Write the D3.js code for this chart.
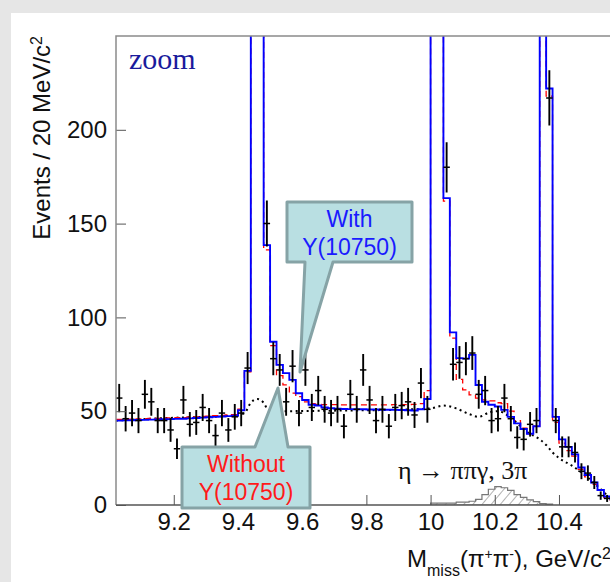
<!DOCTYPE html>
<html>
<head>
<meta charset="utf-8">
<script src="https://cdn.jsdelivr.net/npm/d3@7"></script>
<style>
  body { margin: 0; background: #fff; }
  svg { display: block; }
  text { font-family: "Liberation Sans", Arial, sans-serif; }
</style>
</head>
<body>
<div id="chart"></div>
<script>
// histogram binning: 20 MeV bins, first bin starts at 9.02 GeV
var binLow = 9.02,
	binW = 0.02;

// measured events per bin (points with errors)
var dataCounts = [57, 46, 49, 45, 59, 55, 45, 45, 40, 30,
	56, 43, 44, 52, 45, 37, 49, 40, 47, 49,
	73, 330, 310, 150, 78, 72, 55, 74, 49, 72,
	52, 61, 51, 49, 51, 42, 59, 51, 72, 56,
	45, 51, 42, 52, 53, 55, 48, 65, 51, 320,
	310, 180, 75, 76, 78, 81, 59, 61, 45, 46,
	57, 46, 36, 35, 43, 45, 390, 217, 45, 31,
	31, 28, 18, 17, 12, 5, 3.5];

// fit with Y(10750) (blue)
var fitWith = [45.0, 45.1, 45.2, 45.3, 45.4, 45.5, 45.6, 45.7, 45.8, 45.9,
	46.0, 46.2, 46.4, 46.6, 46.8, 47.0, 47.2, 47.4, 47.6, 50.5,
	71.5, 400, 400, 138.5, 87, 74.7, 70.3, 66.7, 59.6, 56,
	53.4, 53, 52, 51.6, 51.3, 51.2, 51.1, 51, 51, 50.9,
	50.9, 50.8, 50.8, 50.7, 50.6, 50.5, 50.4, 51, 56.5, 420,
	420, 163.6, 92, 78.3, 78, 80, 64, 55, 53.4, 52.5,
	50.7, 47, 43.5, 40.5, 38, 42, 420, 222, 47, 35,
	31, 27, 20, 16, 12, 8, 4.5, 3];

// fit without Y(10750) (red dashed)
var fitWithout = [45.6, 45.7, 45.8, 45.9, 46.0, 46.1, 46.2, 46.3, 46.4, 46.5,
	46.6, 46.8, 47.0, 47.2, 47.4, 47.6, 47.8, 48.0, 48.2, 51.1,
	71, 400, 400, 136, 85, 69, 64, 59.6, 57.8, 55,
	54, 53.6, 53.5, 53.5, 53.5, 53.4, 53.4, 53.4, 53.4, 53.4,
	53.4, 53.4, 53.4, 53.5, 53.5, 53.5, 53.6, 54, 61, 420,
	420, 162, 89, 67, 61.4, 58.7, 57, 56, 55.5, 54.5,
	54, 50, 45, 41, 38, 42, 420, 218, 44, 33,
	29, 26, 19, 15, 11, 8, 4, 2.5];

// smooth background (black dotted)
var bgMass = [9.02, 9.20, 9.38, 9.42, 9.44, 9.46, 9.48, 9.495, 9.52, 9.70, 9.90, 10.00, 10.04, 10.08,
	10.12, 10.15, 10.185, 10.21, 10.26, 10.30, 10.34, 10.36, 10.38, 10.40, 10.44, 10.48, 10.52, 10.56, 10.60];
var bgLevel = [45, 46.5, 47.5, 49, 54.5, 56.5, 54.5, 50.5, 50, 50.3, 50.8, 51.5, 53, 51.5,
	48.5, 47, 49.5, 50, 45, 39, 35, 32, 28, 25, 21, 16, 10, 4, 1];

// eta -> pi pi gamma, 3pi component (hatched)
var peakLow = 10.00;
var peakCounts = [1, 1, 1, 1, 1.5, 1.5, 2, 3, 5.5, 8.4, 9.8, 9.2, 7.8, 5.5, 4.1, 2.7, 1.8, 0.8, 0.5];

var xTickLabels = [9.2, 9.4, 9.6, 9.8, 10, 10.2, 10.4];
var yTickLabels = [0, 50, 100, 150, 200];

var width = 610,
	height = 582;

var svg = d3.select("#chart")
	.append("svg")
	.attr("width", width)
	.attr("height", height);

// slide card
svg.append("rect").attr("width", width).attr("height", height).attr("fill", "#e6e6e6");
svg.append("rect").attr("x", 11).attr("y", 13).attr("width", width).attr("height", height).attr("fill", "#fff");

var x = d3.scaleLinear().domain([9.02, 10.62]).range([116, 629.6]);
var y = d3.scaleLinear().domain([0, 250]).range([505, 36]);

var defs = svg.append("defs");
defs.append("clipPath").attr("id", "plot")
	.append("rect")
	.attr("x", x.range()[0]).attr("y", y.range()[1])
	.attr("width", x.range()[1] - x.range()[0])
	.attr("height", y.range()[0] - y.range()[1]);

var hatch = defs.append("pattern")
	.attr("id", "hatch")
	.attr("patternUnits", "userSpaceOnUse")
	.attr("width", 7).attr("height", 7)
	.attr("patternTransform", "rotate(40)");
hatch.append("line")
	.attr("x1", 0).attr("y1", 0).attr("x2", 0).attr("y2", 7)
	.attr("stroke", "#666").attr("stroke-width", 1);

var plot = svg.append("g").attr("clip-path", "url(#plot)");

function stepPath(vals, lo) {
	var p = "";
	vals.forEach(function(v, i) {
		var x0 = x(lo + i * binW),
			x1 = x(lo + (i + 1) * binW);
		p += (i === 0 ? "M" + x0 + "," + y(v) : "V" + y(v)) + "H" + x1;
	});
	return p;
}

// hatched component
var hp = "M" + x(peakLow) + "," + y(0);
peakCounts.forEach(function(v, i) {
	hp += "V" + y(v) + "H" + x(peakLow + (i + 1) * binW);
});
hp += "V" + y(0) + "Z";
plot.append("path")
	.attr("d", hp)
	.attr("fill", "url(#hatch)")
	.attr("stroke", "#777")
	.attr("stroke-width", 1.2);

// background curve
var bgLine = d3.line()
	.x(function(d, i) { return x(bgMass[i]); })
	.y(function(d) { return y(d); })
	.curve(d3.curveMonotoneX);
plot.append("path")
	.attr("d", bgLine(bgLevel))
	.attr("fill", "none")
	.attr("stroke", "#000")
	.attr("stroke-width", 2)
	.attr("stroke-dasharray", "2,3.5");

plot.append("path")
	.attr("d", stepPath(fitWithout, binLow))
	.attr("fill", "none")
	.attr("stroke", "#ff0000")
	.attr("stroke-width", 1.3)
	.attr("stroke-dasharray", "6,4");

plot.append("path")
	.attr("d", stepPath(fitWith, binLow))
	.attr("fill", "none")
	.attr("stroke", "#0000ff")
	.attr("stroke-width", 1.9);

// data points
var pts = plot.selectAll(".pt")
	.data(dataCounts)
	.enter().append("g")
	.attr("class", "pt");
pts.append("line")
	.attr("x1", function(d, i) { return x(binLow + (i + 0.5) * binW); })
	.attr("x2", function(d, i) { return x(binLow + (i + 0.5) * binW); })
	.attr("y1", function(d) { return y(d - Math.sqrt(d)); })
	.attr("y2", function(d) { return y(d + Math.sqrt(d)); })
	.attr("stroke", "#000")
	.attr("stroke-width", 1.9);
pts.append("line")
	.attr("x1", function(d, i) { return x(binLow + i * binW); })
	.attr("x2", function(d, i) { return x(binLow + (i + 1) * binW); })
	.attr("y1", function(d) { return y(d); })
	.attr("y2", function(d) { return y(d); })
	.attr("stroke", "#000")
	.attr("stroke-width", 1.5);

// axes
var yMinor = d3.range(0, 251, 10);
var xMinor = d3.range(0, 80).map(function(i) { return 9.0 + i * 0.025; })
	.filter(function(v) { return v > 9.03 && v < 10.62; });

var yAx = svg.append("g").attr("transform", "translate(" + x.range()[0] + ",0)");
yAx.call(d3.axisLeft(y).tickValues(yMinor).tickSize(-5).tickFormat(""));
yAx.call(d3.axisLeft(y).tickValues(yTickLabels).tickSize(-10).tickPadding(9));

var xAx = svg.append("g").attr("transform", "translate(0," + y.range()[0] + ")");
xAx.call(d3.axisBottom(x).tickValues(xMinor).tickSize(-5).tickFormat(""));
xAx.call(d3.axisBottom(x).tickValues(xTickLabels).tickSize(-10).tickPadding(8).tickFormat(d3.format("~g")));

svg.selectAll(".domain").remove();
svg.selectAll(".tick line").attr("stroke", "#555");
svg.selectAll(".tick text")
	.attr("fill", "#111")
	.style("font-size", "24px")
	.style("font-family", "'Liberation Sans', Arial, sans-serif");

// frame
svg.append("path")
	.attr("d", "M" + x.range()[0] + "," + y.range()[0] + "V" + y.range()[1] + "H" + width)
	.attr("fill", "none")
	.attr("stroke", "#8a8a8a")
	.attr("stroke-width", 1.5);
svg.append("line")
	.attr("x1", x.range()[0]).attr("x2", width)
	.attr("y1", y.range()[0]).attr("y2", y.range()[0])
	.attr("stroke", "#555").attr("stroke-width", 1.5);

// titles
var yt = svg.append("text")
	.attr("transform", "translate(50,36) rotate(-90)")
	.attr("text-anchor", "end")
	.attr("font-size", 24)
	.attr("fill", "#111")
	.text("Events / 20 MeV/c");
yt.append("tspan").attr("baseline-shift", "super").attr("font-size", 16).text("2");

var xt = svg.append("text")
	.attr("x", 407).attr("y", 567)
	.attr("font-size", 24)
	.attr("fill", "#111");
xt.append("tspan").text("M");
xt.append("tspan").attr("baseline-shift", "sub").attr("font-size", 16).text("miss");
xt.append("tspan").text("(\u03c0");
xt.append("tspan").attr("baseline-shift", "super").attr("font-size", 14).text("+");
xt.append("tspan").text("\u03c0");
xt.append("tspan").attr("baseline-shift", "super").attr("font-size", 14).text("-");
xt.append("tspan").text("), GeV/c");
xt.append("tspan").attr("baseline-shift", "super").attr("font-size", 16).text("2");

svg.append("text")
	.attr("x", 129).attr("y", 69)
	.style("font-family", "'Liberation Serif', 'Times New Roman', serif")
	.attr("font-size", 30)
	.attr("fill", "#1a1a9c")
	.text("zoom");

svg.append("text")
	.attr("x", 398).attr("y", 479)
	.style("font-family", "'Liberation Serif', 'Times New Roman', serif")
	.attr("font-size", 26)
	.attr("fill", "#111")
	.text("\u03b7 \u2192 \u03c0\u03c0\u03b3, 3\u03c0");

// callouts
function callout(box, tail, lines, color) {
	var bx0 = box[0], by0 = box[1], bx1 = box[2], by1 = box[3];
	var p;
	if (tail[2][1] > by1) {
		p = "M" + bx0 + "," + by0 + "H" + bx1 + "V" + by1 + "H" + tail[1][0] +
			"L" + tail[2][0] + "," + tail[2][1] + "L" + tail[0][0] + "," + by1 + "H" + bx0 + "Z";
	} else {
		p = "M" + bx0 + "," + by0 + "H" + tail[0][0] + "L" + tail[2][0] + "," + tail[2][1] +
			"L" + tail[1][0] + "," + by0 + "H" + bx1 + "V" + by1 + "H" + bx0 + "Z";
	}
	svg.append("path")
		.attr("d", p)
		.attr("fill", "#b9dfe2")
		.attr("stroke", "#86a3a6")
		.attr("stroke-width", 3)
		.attr("stroke-linejoin", "round");
	var cx = (bx0 + bx1) / 2;
	lines.forEach(function(t, i) {
		svg.append("text")
			.attr("x", cx).attr("y", by0 + 25 + i * 28)
			.attr("text-anchor", "middle")
			.attr("font-size", 23)
			.attr("fill", color)
			.text(t);
	});
}

callout([287, 202, 412, 262], [[305, 262], [333, 262], [300, 372]], ["With", "Y(10750)"], "#1a1aff");
callout([182, 447, 310, 508], [[255, 447], [288, 447], [278, 388]], ["Without", "Y(10750)"], "#ff1a1a");
</script>
</body>
</html>
